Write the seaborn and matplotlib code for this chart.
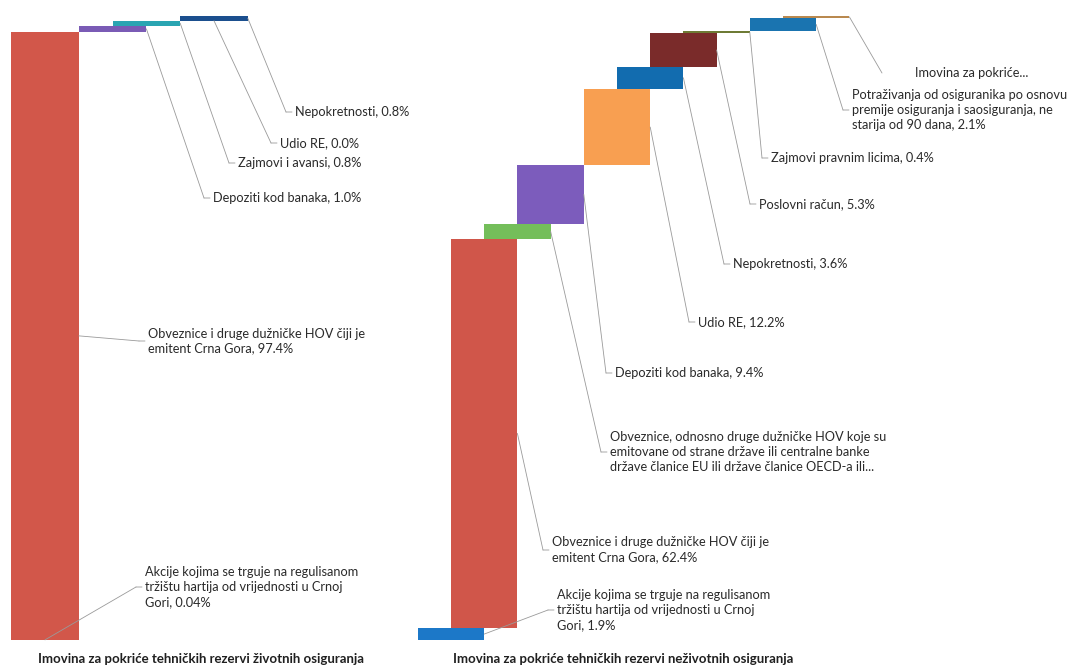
import numpy as np
import pandas as pd
import matplotlib
matplotlib.use("Agg")
import matplotlib.pyplot as plt
import seaborn as sns

# ---- data -------------------------------------------------------------
life_names = [
    "Akcije kojima se trguje na regulisanom\ntržištu hartija od vrijednosti u Crnoj\nGori",
    "Obveznice i druge dužničke HOV čiji je\nemitent Crna Gora",
    "",
    "Depoziti kod banaka",
    "Zajmovi i avansi",
    "Udio RE",
    "Nepokretnosti",
]
life_values = [0.04, 97.4, 0.0, 1.0, 0.8, 0.0, 0.8]

nonlife_names = [
    "Akcije kojima se trguje na regulisanom\ntržištu hartija od vrijednosti u Crnoj\nGori",
    "Obveznice i druge dužničke HOV čiji je\nemitent Crna Gora",
    "Obveznice, odnosno druge dužničke HOV koje su\nemitovane od strane države ili centralne banke\n"
    "države članice EU ili države članice OECD-a ili...",
    "Depoziti kod banaka",
    "",
    "Udio RE",
    "Nepokretnosti",
    "Poslovni račun",
    "Zajmovi pravnim licima",
    "",
    "Potraživanja od osiguranika po osnovu\npremije osiguranja i saosiguranja, ne\nstarija od 90 dana",
    "Imovina za pokriće...",
]
nonlife_values = [1.9, 62.4, 2.4, 9.4, 0.0, 12.2, 3.6, 5.3, 0.4, 0.0, 2.1, 0.3]

life_title = "Imovina za pokriće tehničkih rezervi životnih osiguranja"
nonlife_title = "Imovina za pokriće tehničkih rezervi neživotnih osiguranja"

# ---- styles / layout --------------------------------------------------
life_colors = ["#2E75C4", "#D2574A", "#76BF5A", "#7A5BB5", "#2AA5B2", "#F79646", "#1B4F8E"]
nonlife_colors = ["#1C78C8", "#D0564A", "#74BE5A", "#7C5CBC", "#2AA5B2", "#F89F51",
                  "#126CAF", "#7A2B2A", "#6E7B35", "#4D3B62", "#1A74B0", "#B9894F"]

# label text start x, text centre y (image pixels), optional leader end x
life_label_pos = [(145, 587), (148, 341), None, (213, 198), (238, 163), (280, 143), (295, 112)]
nonlife_label_pos = [(557, 610), (552, 550), (610, 452), (615, 373), None, (698, 322),
                     (733, 264), (759, 204), (771, 158), None, (852, 110), (915, 73, 882)]

W, H = 1072, 666
BASE, SCALE = 640, 6.24          # pixel row of 0 %, pixels per percent
LINE = "#9a9a9a"
TXT = "#2a2a2a"
FS = 9.2
FS_TITLE = 9.5

sns.set_style("white")
plt.rcParams["font.family"] = ["Lato", "DejaVu Sans"]

fig = plt.figure(figsize=(W / 100, H / 100), dpi=100)


def fmt(v):
    return f"{v:.2f}%" if 0 < v < 0.1 else f"{v:.1f}%"


def waterfall(span, center0, step, names, values, colors, label_pos, title, title_x):
    ax = fig.add_axes([span[0] / W, 0, (span[1] - span[0]) / W, 1])
    df = pd.DataFrame({"pos": np.arange(len(values)), "value": values})
    df["bottom"] = df["value"].cumsum() - df["value"]
    sns.barplot(data=df, x="pos", y="value", native_scale=True, width=2,
                errorbar=None, color="grey", saturation=1, linewidth=0, ax=ax)
    for patch, b, c in zip(ax.patches, df["bottom"], colors):
        patch.set_y(b)
        patch.set_facecolor(c)
    ax.set_xlim((span[0] - center0) / step, (span[1] - center0) / step)
    ax.set_ylim(-(H - BASE) / SCALE, BASE / SCALE)
    ax.axis("off")

    for k, (name, v, lp) in enumerate(zip(names, values, label_pos)):
        if lp is None:
            continue
        tx, ty = lp[0], H - lp[1]
        ex = lp[2] if len(lp) > 2 else tx - 9
        anchor = (k + 1, df["bottom"][k] + v / 2)
        ax.annotate("", xy=anchor, xycoords="data", xytext=(ex, ty),
                    textcoords="figure pixels",
                    arrowprops=dict(arrowstyle="-", color=LINE, lw=0.6,
                                    shrinkA=0, shrinkB=0))
        if len(lp) == 2:
            ax.annotate("", xy=(tx - 3, ty), xycoords="figure pixels", xytext=(ex, ty),
                        textcoords="figure pixels",
                        arrowprops=dict(arrowstyle="-", color=LINE, lw=0.6,
                                        shrinkA=0, shrinkB=0))
        text = name if name.endswith("...") else f"{name}, {fmt(v)}"
        fig.text(tx / W, ty / H, text, ha="left", va="center", fontsize=FS,
                 color=TXT, linespacing=1.3)

    fig.text(title_x / W, 1 - 659 / H, title, ha="center", va="center",
             fontsize=FS_TITLE, fontweight="bold", color="#202020")
    return ax


waterfall((0, 536), 11.2, 33.8, life_names, life_values, life_colors,
          life_label_pos, life_title, 201)
waterfall((370, 1072), 451, 33.2, nonlife_names, nonlife_values, nonlife_colors,
          nonlife_label_pos, nonlife_title, 623)

fig.savefig("out.png", dpi=100, facecolor="white")
